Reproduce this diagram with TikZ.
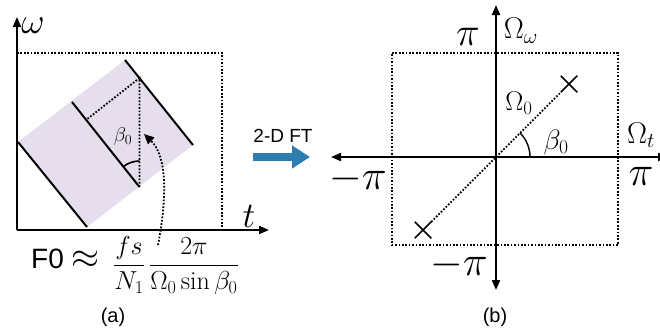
\RequirePackage{fix-cm}
\documentclass[tikz,border=0pt]{standalone}
\usepackage{amsmath}
\usepackage{fontspec}
\setsansfont{Liberation Sans}
\usetikzlibrary{arrows.meta,shapes.misc}
\definecolor{lavender}{RGB}{230,222,236}
\definecolor{ftblue}{RGB}{46,125,176}
\newcommand{\fsz}[1]{\fontsize{#1}{#1}\selectfont}

\begin{document}
\begin{tikzpicture}[x=1pt, y=1pt,
    axis/.style={line width=2pt, -{Triangle[length=10pt,width=8pt]}},
    axis2/.style={line width=2pt, {Triangle[length=10pt,width=8pt]}-{Triangle[length=10pt,width=8pt]}},
    dotline/.style={line width=1.8pt, dash pattern=on 1.7pt off 1.7pt},
    ridge/.style={line width=2pt},
    xmark/.style={draw, cross out, line width=1.5pt, minimum size=15pt, inner sep=0pt},
    lbl/.style={inner sep=0pt},
    ftarr/.style={ftblue, line width=8.5pt, -{Triangle[length=18pt,width=22pt]}}]
  \clip (0,0) rectangle (660,333);
  % (a) time--frequency plane
  \coordinate (oa) at (17,103);
  \coordinate (wtip) at (17,316);
  \coordinate (ttip) at (269,103);
  \coordinate (sa) at (18,191);
  \coordinate (sb) at (125,273);
  \coordinate (sc) at (193,188);
  \coordinate (sd) at (87,106);
  \coordinate (ra) at (72,231);
  \coordinate (vert) at (139.5,146);
  \coordinate (vtop) at (139.5,255);
  \coordinate (foot) at (86,213);
  \coordinate (ba) at (17,280);
  \coordinate (bb) at (222,280);
  \coordinate (bc) at (222,103);
  \fill[lavender] (sa) -- (sb) -- (sc) -- (sd) -- cycle;
  \draw[dotline] (ba) -- (bb) -- (bc);
  \draw[ridge] (sa) -- (sd);
  \draw[ridge] (ra) -- (vert);
  \draw[ridge] (sb) -- (sc);
  \draw[dotline] (vert) -- (vtop) -- (foot);
  \draw[line width=1.6pt] ([shift={(90:26)}]vert) arc[start angle=90, end angle=129, radius=26];
  \draw[axis] (oa) -- (wtip);
  \draw[axis] (oa) -- (ttip);
  \node[lbl, font=\fsz{36}] (wl) at (33,307) {$\omega$};
  \node[lbl, font=\fsz{36}] (tl) at (249,117) {$t$};
  \node[lbl, font=\fsz{20}] (bl) at (123,197) {$\beta_0$};
  \coordinate (cstart) at (158,88);
  \coordinate (ctip) at (144,199);
  \draw[dotline, -{Triangle[length=10pt,width=9pt]}] (cstart) .. controls (168,140) and (166,178) .. (ctip);
  \node[lbl, anchor=base west, font=\sffamily\fsz{28}] (f0) at (31,65) {F0 \fsz{36}$\approx$};
  \node[lbl, anchor=base west, font=\fsz{26}] (fr) at (113,61) {$\dfrac{fs}{N_1}\,\dfrac{2\pi}{\Omega_0\sin\beta_0}$};
  \node[lbl, font=\sffamily\fsz{20}] (la) at (113,16) {(a)};
  % 2-D FT
  \coordinate (fta) at (253,176);
  \coordinate (ftb) at (310,176);
  \draw[ftarr] (fta) -- (ftb);
  \node[lbl, font=\sffamily\fsz{19}] (ft) at (283,197) {2-D FT};
  % (b) frequency plane
  \coordinate (ob) at (496,176);
  \coordinate (lt) at (331,176);
  \coordinate (rt) at (668,176);
  \coordinate (up) at (496,328);
  \coordinate (dn) at (496,43);
  \coordinate (qa) at (392,280);
  \coordinate (qb) at (618,280);
  \coordinate (qc) at (618,88);
  \coordinate (qd) at (392,88);
  \draw[dotline] (qa) -- (qb) -- (qc) -- (qd) -- cycle;
  \draw[axis2] (lt) -- (rt);
  \draw[axis2] (dn) -- (up);
  \node[xmark] (xp) at (569,249) {};
  \node[xmark] (xm) at (423,103) {};
  \draw[dotline] (xm) -- (xp);
  \draw[line width=1.4pt] ([shift={(0:34)}]ob) arc[start angle=0, end angle=45, radius=34];
  \node[lbl, font=\fsz{40}] (pt) at (468,296) {$\pi$};
  \node[lbl, font=\fsz{30}] (ow) at (521,302) {$\Omega_\omega$};
  \node[lbl, font=\fsz{42}] (pl) at (358,154) {$-\pi$};
  \node[lbl, font=\fsz{42}] (pr) at (641,157) {$\pi$};
  \node[lbl, font=\fsz{30}] (ot) at (641,198) {$\Omega_t$};
  \node[lbl, font=\fsz{42}] (pb) at (459,68) {$-\pi$};
  \node[lbl, font=\fsz{27}] (oz) at (519,230) {$\Omega_0$};
  \node[lbl, font=\fsz{28}] (bz) at (556,191) {$\beta_0$};
  \node[lbl, font=\sffamily\fsz{20}] (lb) at (495,16) {(b)};
\end{tikzpicture}
\end{document}
